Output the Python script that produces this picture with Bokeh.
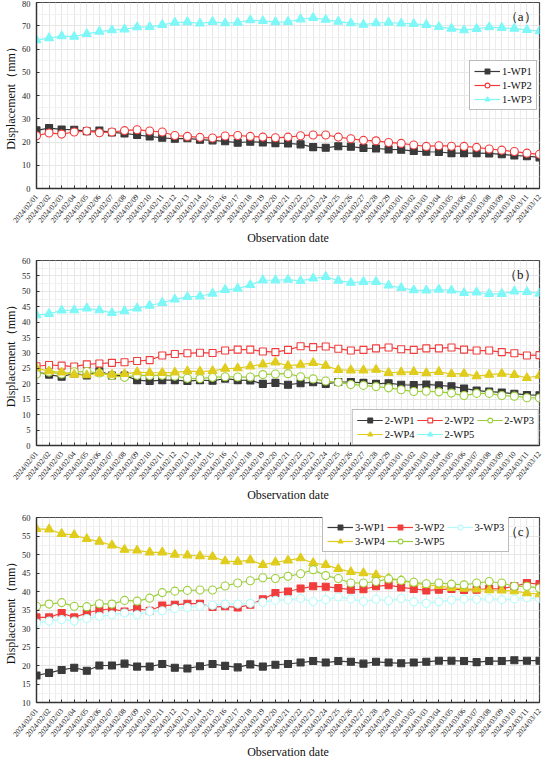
from bokeh.plotting import figure
from bokeh.models import Range1d, FixedTicker, SingleIntervalTicker, Legend, LegendItem, Label
from bokeh.layouts import column
from bokeh.embed import file_html
from bokeh.resources import INLINE

dates = ["2024/02/01", "2024/02/02", "2024/02/03", "2024/02/04", "2024/02/05", "2024/02/06",
         "2024/02/07", "2024/02/08", "2024/02/09", "2024/02/10", "2024/02/11", "2024/02/12",
         "2024/02/13", "2024/02/14", "2024/02/15", "2024/02/16", "2024/02/17", "2024/02/18",
         "2024/02/19", "2024/02/20", "2024/02/21", "2024/02/22", "2024/02/23", "2024/02/24",
         "2024/02/25", "2024/02/26", "2024/02/27", "2024/02/28", "2024/02/29", "2024/03/01",
         "2024/03/02", "2024/03/03", "2024/03/04", "2024/03/05", "2024/03/06", "2024/03/07",
         "2024/03/08", "2024/03/09", "2024/03/10", "2024/03/11", "2024/03/12"]

# Panel (a)
a_wp1 = [25.0, 26.0, 25.4, 25.3, 24.6, 24.9, 24.1, 23.7, 23.0, 22.4, 21.8, 21.4, 21.6, 21.0,
         20.7, 20.3, 19.7, 20.1, 19.8, 19.5, 19.4, 19.0, 17.8, 17.5, 18.2, 18.0, 17.4, 17.2,
         16.8, 16.7, 16.1, 15.8, 15.7, 15.2, 15.2, 15.2, 15.1, 14.7, 14.2, 13.9, 13.4]
a_wp2 = [22.7, 23.9, 23.4, 24.3, 24.7, 24.0, 24.3, 24.9, 25.3, 24.7, 24.3, 22.8, 22.4, 22.0,
         21.7, 22.6, 22.8, 22.4, 22.1, 21.8, 22.1, 22.7, 23.0, 23.0, 22.1, 21.4, 20.7, 20.5,
         19.8, 19.4, 18.7, 18.1, 18.4, 18.2, 18.1, 17.7, 17.0, 16.5, 15.9, 15.2, 14.7]
a_wp3 = [63.8, 64.7, 65.5, 65.3, 66.5, 67.5, 68.1, 68.5, 69.4, 69.5, 70.4, 71.4, 71.6, 71.0,
         71.7, 71.1, 71.4, 72.4, 72.1, 71.6, 71.7, 72.8, 73.4, 72.6, 71.8, 71.1, 70.5, 71.1,
         71.4, 71.0, 70.8, 70.4, 69.5, 68.8, 68.1, 68.7, 69.4, 69.1, 68.8, 68.2, 67.7]

# Panel (b)
b_wp1 = [23.8, 23.0, 22.3, 23.4, 22.7, 24.1, 22.7, 22.7, 21.2, 20.9, 21.2, 21.2, 20.9, 21.2,
         21.0, 21.7, 21.2, 21.1, 20.0, 20.3, 19.7, 20.2, 20.5, 20.0, 20.6, 20.6, 20.3, 20.0,
         20.2, 19.7, 19.6, 19.8, 19.5, 19.2, 18.5, 17.8, 17.5, 17.2, 16.8, 16.4, 16.3]
b_wp2 = [25.7, 26.1, 25.9, 25.6, 26.3, 26.6, 26.8, 27.0, 27.4, 27.7, 29.2, 29.7, 29.9, 30.1,
         30.0, 30.8, 31.1, 31.1, 30.5, 30.3, 31.0, 32.2, 31.9, 32.1, 31.4, 30.8, 31.0, 31.5,
         31.8, 31.2, 31.0, 31.5, 31.5, 31.8, 31.1, 30.8, 30.8, 30.3, 29.9, 29.2, 29.3]
b_wp3 = [23.1, 23.8, 23.2, 23.9, 24.0, 23.5, 22.7, 22.1, 22.8, 22.7, 22.8, 22.5, 21.8, 21.7,
         22.1, 22.3, 22.2, 22.2, 23.0, 23.2, 23.3, 22.3, 21.6, 20.9, 20.5, 19.8, 19.5, 19.1,
         18.7, 18.1, 17.5, 17.6, 17.4, 17.0, 16.2, 16.9, 16.9, 16.2, 16.0, 15.5, 15.4]
b_wp4 = [25.1, 24.1, 23.7, 23.0, 22.8, 23.5, 23.0, 23.2, 23.8, 23.6, 23.6, 23.7, 24.1, 24.0,
         24.2, 24.9, 25.1, 25.7, 26.3, 27.0, 25.9, 26.2, 26.8, 25.9, 24.5, 24.4, 24.4, 24.6,
         23.6, 23.8, 23.9, 23.5, 23.9, 23.2, 23.3, 22.5, 23.0, 23.3, 22.9, 21.9, 22.7]
b_wp5 = [42.3, 42.7, 43.8, 43.9, 44.5, 43.9, 43.0, 43.6, 44.5, 45.4, 46.3, 47.4, 48.2, 48.4,
         49.3, 50.5, 50.9, 52.1, 53.6, 53.6, 53.8, 53.4, 54.2, 54.7, 53.5, 52.8, 53.1, 53.1,
         51.9, 51.1, 50.4, 50.3, 50.6, 50.3, 49.5, 49.7, 49.2, 49.2, 50.0, 49.8, 49.3]

# Panel (c)
c_wp1 = [17.3, 18.0, 18.8, 19.4, 18.6, 20.0, 20.0, 20.5, 19.7, 19.7, 20.4, 19.4, 19.2, 19.8,
         20.4, 19.9, 19.5, 20.3, 19.7, 20.2, 20.4, 20.8, 21.2, 20.8, 21.2, 21.0, 20.5, 21.0,
         20.8, 20.6, 20.8, 21.0, 21.3, 21.3, 21.2, 20.9, 21.2, 21.2, 21.4, 21.3, 21.3]
c_wp2 = [33.0, 33.0, 34.2, 33.0, 34.2, 35.0, 35.3, 34.6, 35.4, 34.8, 36.2, 36.4, 36.7, 36.7,
         35.8, 36.0, 35.7, 36.4, 37.9, 39.6, 40.0, 40.8, 41.4, 41.3, 40.9, 40.5, 40.6, 41.4,
         41.7, 41.1, 40.7, 40.3, 40.5, 40.7, 40.4, 40.5, 40.7, 40.8, 41.4, 42.3, 42.0]
c_wp3 = [31.5, 32.0, 32.4, 32.0, 32.7, 33.3, 33.7, 34.2, 33.7, 34.6, 34.8, 35.4, 35.7, 36.0,
         36.3, 36.6, 36.6, 36.8, 37.1, 37.6, 37.8, 38.1, 37.3, 37.8, 38.5, 38.0, 37.3, 37.9,
         37.5, 38.1, 37.2, 36.8, 37.2, 37.7, 38.0, 37.9, 38.1, 37.8, 38.0, 38.3, 38.1]
c_wp4 = [56.9, 56.8, 55.6, 55.3, 54.2, 53.5, 52.5, 51.3, 51.1, 50.6, 50.6, 50.0, 49.8, 49.6,
         49.4, 48.2, 48.1, 48.5, 47.2, 47.9, 48.4, 49.0, 47.7, 47.2, 46.1, 45.3, 45.0, 44.5,
         43.6, 43.0, 42.3, 41.8, 41.5, 41.0, 40.8, 40.6, 40.4, 40.3, 40.1, 39.6, 39.3]
c_wp5 = [36.0, 36.6, 37.0, 36.0, 35.9, 36.7, 36.6, 37.6, 37.4, 38.2, 39.7, 40.1, 40.3, 40.4,
         40.4, 41.5, 42.3, 42.9, 43.7, 43.5, 44.1, 44.8, 45.9, 44.3, 43.5, 42.3, 42.3, 42.7,
         43.4, 43.0, 42.5, 42.1, 42.3, 42.0, 41.8, 42.3, 42.7, 42.3, 41.4, 41.4, 40.9]

FONT = "Liberation Serif"
DARK = "#3a3a3a"
RED = "#f23c3c"
CYAN = "#7ff7f7"
LCYAN = "#b5fbfb"
YEL = "#e0cc1c"
GRN = "#9ccf3c"

xs = list(range(len(dates)))


def make_panel(series, ymin, ymax, ystep, tag, top, fh, bottom, legend_kw):
    p = figure(frame_width=503, frame_height=fh,
               x_range=Range1d(0, len(dates) - 1), y_range=Range1d(ymin, ymax),
               output_backend="svg", toolbar_location=None,
               min_border_top=top, min_border_left=0, min_border_right=4,
               min_border_bottom=bottom, background_fill_color="white")
    p.outline_line_color = "#4a4a4a"
    p.outline_line_width = 1.2

    p.xaxis.ticker = FixedTicker(ticks=xs, minor_ticks=[i + 0.5 for i in xs[:-1]])
    p.xaxis.major_label_overrides = {i: d for i, d in zip(xs, dates)}
    p.xaxis.major_label_orientation = 0.87
    p.yaxis.ticker = SingleIntervalTicker(interval=ystep, num_minor_ticks=2)

    for ax in (p.xaxis, p.yaxis):
        ax.axis_line_color = "#333333"
        ax.axis_line_width = 1.3
        ax.major_tick_line_color = "#333333"
        ax.major_tick_in = 3
        ax.major_tick_out = 0
        ax.minor_tick_line_color = None
        ax.major_label_text_font = FONT
        ax.major_label_text_color = "#222222"
        ax.axis_label_text_font = FONT
        ax.axis_label_text_font_style = "normal"
        ax.axis_label_text_color = "#111111"
        ax.axis_label_text_font_size = "12px"
    p.xaxis.major_label_text_font_size = "7.5px"
    p.yaxis.major_label_text_font_size = "8.5px"
    p.xaxis.major_label_standoff = 3
    p.yaxis.major_label_standoff = 2
    p.xaxis.axis_label_standoff = 1
    p.yaxis.axis_label_standoff = 1
    p.xaxis.axis_label = "Observation date"
    p.yaxis.axis_label = "Displacement（mm）"

    p.xgrid.grid_line_color = "#e6e6e6"
    p.xgrid.minor_grid_line_color = "#eeeeee"
    p.ygrid.grid_line_color = "#e6e6e6"
    p.ygrid.minor_grid_line_color = "#f1f1f1"

    items = []
    for name, vals, color, marker, fill, size in series:
        r1 = p.line(xs, vals, line_color=color, line_width=1.2)
        r2 = p.scatter(xs, vals, marker=marker, size=size, fill_color=fill,
                       line_color=color, line_width=1.1)
        items.append(LegendItem(label=name, renderers=[r1, r2]))

    leg = Legend(items=items, **legend_kw)
    leg.label_text_font = FONT
    leg.label_text_font_size = "10.5px"
    leg.label_text_color = "#111111"
    leg.border_line_color = "#777777"
    leg.border_line_width = 1
    leg.background_fill_alpha = 1.0
    leg.glyph_width = 26
    leg.glyph_height = 12
    leg.label_height = 12
    leg.label_standoff = 2
    leg.spacing = 2
    leg.padding = 4
    leg.margin = 0
    p.add_layout(leg)

    p.add_layout(Label(x=len(dates) - 1, y=ymax, x_offset=-3, y_offset=-6, text=tag,
                       text_align="right", text_baseline="top", text_font=FONT,
                       text_font_size="13px", text_color="#111111"))
    return p


pa = make_panel([
    ("1-WP1", a_wp1, DARK, "square", DARK, 7),
    ("1-WP2", a_wp2, RED, "circle", "white", 8),
    ("1-WP3", a_wp3, CYAN, "triangle", CYAN, 9),
], 0, 80, 10, "（a）", 2, 186, 56,
    dict(location=(433, 78), orientation="vertical"))

pb = make_panel([
    ("2-WP1", b_wp1, DARK, "square", DARK, 7),
    ("2-WP2", b_wp2, RED, "square", "white", 7),
    ("2-WP3", b_wp3, GRN, "circle", "white", 8),
    ("2-WP4", b_wp4, YEL, "triangle", YEL, 9),
    ("2-WP5", b_wp5, CYAN, "triangle", CYAN, 9),
], 0, 60, 5, "（b）", 12, 185, 56,
    dict(location="bottom_right", orientation="horizontal", ncols=3))

pc = make_panel([
    ("3-WP1", c_wp1, DARK, "square", DARK, 7),
    ("3-WP2", c_wp2, RED, "square", RED, 7),
    ("3-WP3", c_wp3, LCYAN, "circle", "white", 8),
    ("3-WP4", c_wp4, YEL, "triangle", YEL, 9),
    ("3-WP5", c_wp5, GRN, "circle", "white", 8),
], 10, 60, 5, "（c）", 12, 185, 50,
    dict(location=(286, 150), orientation="horizontal", ncols=3))

layout = column(pa, pb, pc, spacing=0)
open("out.html", "w").write(file_html(layout, INLINE))
